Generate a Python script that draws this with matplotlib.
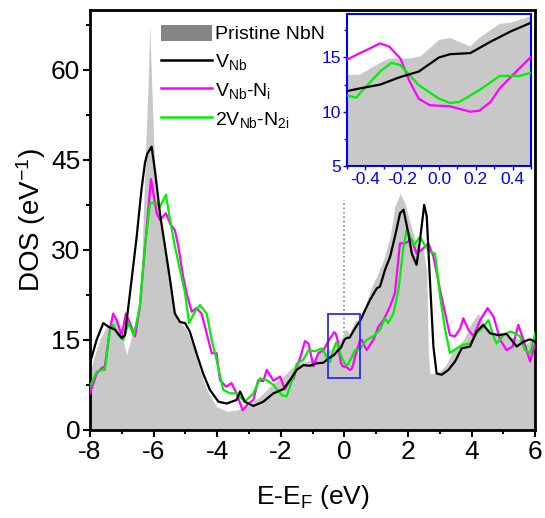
import matplotlib
matplotlib.use('Agg')
import matplotlib.pyplot as plt
from matplotlib.patches import Patch, Rectangle
from matplotlib.lines import Line2D
from matplotlib.ticker import MultipleLocator

plt.rcParams['font.family'] = ['Liberation Sans', 'DejaVu Sans']
plt.rcParams['mathtext.fontset'] = 'custom'
plt.rcParams['mathtext.rm'] = 'Liberation Sans'
plt.rcParams['mathtext.it'] = 'Liberation Sans:italic'
plt.rcParams['axes.unicode_minus'] = False

# total DOS, energies relative to E_F (eV), DOS in states/eV
e_pristine = [-8.0, -7.85, -7.69, -7.5, -7.37, -7.21, -7.0, -6.85, -6.69, -6.48, -6.38,
              -6.32, -6.24, -6.17, -6.12, -6.06, -6.0, -5.93, -5.85, -5.75, -5.59, -5.43,
              -5.27, -5.12, -4.96, -4.75, -4.54, -4.33, -4.02, -3.7, -3.39, -3.07, -2.65,
              -2.23, -1.92, -1.6, -1.39, -1.08, -0.87, -0.66, -0.5, -0.43, -0.32, -0.27,
              -0.16, -0.1, 0.0, 0.06, 0.17, 0.22, 0.33, 0.39, 0.5, 0.65, 0.86, 1.02, 1.23,
              1.44, 1.59, 1.75, 1.91, 2.07, 2.27, 2.48, 2.59, 2.64, 2.69, 2.9, 3.17, 3.43,
              3.74, 4.0, 4.21, 4.37, 4.69, 5.0, 5.42, 5.73, 6.0]
dos_pristine = [9.5, 12.5, 15.0, 17.0, 17.8, 18.3, 16.1, 12.5, 15.6, 19.4, 27.0,
                36.0, 47.8, 58.0, 67.5, 58.0, 49.0, 40.0, 36.0, 33.3, 27.8, 21.7,
                18.3, 17.8, 16.7, 13.9, 10.0, 6.7, 3.9, 3.1, 3.3, 3.9, 5.6,
                7.8, 8.9, 10.6, 11.1, 11.6, 12.2, 13.6, 13.4, 13.4, 14.5, 14.9,
                14.9, 15.1, 16.6, 16.8, 16.0, 16.8, 18.1, 18.2, 18.8, 20.6, 23.9, 25.6, 28.3,
                32.2, 37.2, 39.4, 37.8, 34.4, 31.1, 30.0, 26.7, 12.8, 9.4, 9.4, 10.6, 13.3,
                15.0, 17.8, 19.4, 17.8, 16.1, 15.8, 15.3, 14.4, 15.6]

e_vnb = [-8.0, -7.79, -7.58, -7.42, -7.21, -7.0, -6.9, -6.79, -6.69, -6.53, -6.38, -6.27,
         -6.2, -6.06, -5.95, -5.85, -5.8, -5.64, -5.48, -5.33, -5.17, -5.01, -4.86, -4.65,
         -4.44, -4.23, -3.96, -3.7, -3.39, -3.28, -3.13, -2.86, -2.55, -2.23, -1.92, -1.71,
         -1.5, -1.29, -1.08, -0.87, -0.66, -0.5, -0.43, -0.32, -0.21, -0.11, 0.0, 0.06,
         0.17, 0.28, 0.39, 0.5, 0.6, 0.81, 1.02, 1.12, 1.28, 1.44, 1.59, 1.75, 1.86, 2.01,
         2.12, 2.27, 2.38, 2.51, 2.59, 2.69, 2.8, 2.9, 3.06, 3.27, 3.48, 3.69, 3.95, 4.16,
         4.37, 4.58, 4.84, 5.1, 5.42, 5.63, 5.84, 6.0]
dos_vnb = [11.1, 15.0, 17.8, 17.2, 16.7, 15.3, 15.8, 20.6, 25.0, 32.2, 40.0, 44.5,
           46.0, 47.2, 43.0, 38.5, 36.1, 30.6, 25.0, 19.4, 18.0, 17.8, 16.4, 12.8,
           9.4, 6.7, 4.7, 4.4, 5.0, 6.4, 4.7, 4.0, 4.7, 6.1, 6.8, 8.3,
           10.0, 10.8, 10.7, 11.1, 11.2, 11.9, 12.15, 12.5, 13.2, 13.7, 15.0, 15.3,
           15.4, 16.45, 17.4, 18.2, 19.4, 21.7, 23.6, 23.9, 26.7, 28.9, 32.2, 36.1, 36.7, 32.8,
           29.4, 27.5, 31.7, 37.5, 35.6, 25.0, 13.9, 9.4, 9.2, 10.0, 11.4, 13.6, 13.9, 16.4,
           17.5, 16.1, 15.8, 16.0, 13.9, 14.7, 15.1, 14.7]

e_vnb_ni = [-8.0, -7.79, -7.63, -7.53, -7.37, -7.27, -7.16, -7.0, -6.87, -6.74, -6.58, -6.43,
            -6.22, -6.08, -5.9, -5.8, -5.61, -5.48, -5.33, -5.22, -5.07, -4.96, -4.8, -4.65,
            -4.49, -4.33, -4.17, -4.02, -3.91, -3.72, -3.55, -3.39, -3.2, -3.02, -2.86, -2.71,
            -2.55, -2.44, -2.23, -2.02, -1.87, -1.71, -1.6, -1.5, -1.39, -1.24, -1.13, -0.97,
            -0.82, -0.66, -0.5, -0.43, -0.38, -0.32, -0.27, -0.21, -0.16, -0.11, -0.05, 0.06,
            0.17, 0.22, 0.28, 0.33, 0.39, 0.5, 0.55, 0.7, 0.91, 1.07, 1.23, 1.44, 1.59, 1.75,
            1.91, 2.12, 2.27, 2.43, 2.64, 2.8, 3.01, 3.17, 3.32, 3.48, 3.64, 3.74, 3.9, 4.06,
            4.27, 4.5, 4.69, 4.9, 5.1, 5.29, 5.47, 5.63, 5.84, 6.0]
dos_vnb_ni = [6.1, 9.4, 10.3, 10.6, 16.7, 19.4, 18.3, 15.8, 19.4, 17.8, 15.6, 20.6,
              33.3, 41.8, 36.1, 35.0, 36.1, 34.4, 33.3, 30.6, 25.6, 22.8, 19.7, 20.3,
              19.4, 16.1, 12.8, 12.8, 8.3, 7.2, 7.8, 6.1, 3.3, 4.4, 5.0, 8.3,
              8.1, 10.0, 8.2, 8.9, 6.8, 8.3, 8.5, 10.5, 12.0, 14.8, 14.4, 10.6,
              12.8, 13.3, 14.8, 15.4, 15.8, 16.3, 16.0, 14.9, 12.8, 11.2, 10.6, 10.5,
              10.0, 10.1, 10.9, 12.15, 13.2, 15.06, 15.0, 13.3, 15.0, 17.2, 18.3, 20.6, 22.8, 31.1,
              31.1, 31.7, 29.4, 30.0, 31.1, 28.9, 23.3, 19.4, 15.8, 15.6, 16.9, 18.6, 16.7, 15.6,
              18.3, 20.3, 18.9, 15.0, 13.3, 13.9, 17.5, 15.0, 11.4, 14.4]

e_2vnb_n2i = [-8.0, -7.79, -7.63, -7.53, -7.37, -7.27, -7.11, -6.95, -6.79, -6.62, -6.43, -6.27,
              -6.11, -5.9, -5.8, -5.61, -5.48, -5.33, -5.17, -5.01, -4.88, -4.7, -4.54, -4.33,
              -4.17, -4.02, -3.81, -3.6, -3.39, -3.13, -2.86, -2.65, -2.44, -2.23, -1.97, -1.82,
              -1.6, -1.5, -1.29, -1.13, -0.92, -0.71, -0.56, -0.5, -0.45, -0.43, -0.32, -0.26,
              -0.21, -0.11, 0.0, 0.06, 0.11, 0.22, 0.33, 0.44, 0.5, 0.7, 0.91, 1.12, 1.28, 1.38,
              1.54, 1.7, 1.86, 1.96, 2.07, 2.19, 2.38, 2.54, 2.69, 2.85, 3.01, 3.17, 3.32, 3.53,
              3.74, 3.95, 4.16, 4.37, 4.53, 4.69, 4.79, 5.0, 5.21, 5.37, 5.52, 5.68, 5.84, 6.0]
dos_2vnb_n2i = [7.2, 9.7, 10.0, 10.0, 16.7, 17.5, 15.8, 15.0, 17.8, 15.8, 20.6, 30.6,
                37.8, 37.8, 37.2, 39.2, 35.0, 30.6, 26.7, 22.8, 17.8, 19.7, 20.8, 19.4,
                15.0, 11.7, 6.7, 6.1, 6.1, 4.7, 6.1, 8.6, 8.3, 7.5, 5.8, 5.6,
                8.9, 11.0, 11.7, 13.3, 13.1, 13.6, 12.2, 11.5, 11.3, 11.7, 13.7, 14.5,
                14.3, 12.45, 11.2, 10.8, 10.9, 12.0, 13.3, 13.3, 13.6, 15.0, 15.6, 16.7, 18.6, 17.8,
                19.4, 23.3, 30.6, 33.3, 32.2, 30.8, 32.2, 30.6, 29.7, 29.4, 22.2, 16.7, 12.8, 13.6,
                14.2, 14.4, 16.1, 17.2, 18.3, 15.6, 14.4, 15.8, 16.4, 16.1, 15.6, 13.3, 12.8, 16.1]

labels = ['Pristine NbN',
          r'V$_\mathregular{Nb}$',
          r'V$_\mathregular{Nb}$-N$_\mathregular{i}$',
          r'2V$_\mathregular{Nb}$-N$_\mathregular{2i}$']
gray_fill = '#c8c8c8'
colors = ['k', '#ff00ff', '#00f000']
blue = '#0000ff'


def draw_dos(ax, lw):
    ax.fill_between(e_pristine, dos_pristine, color=gray_fill, lw=0, zorder=1)
    ax.plot(e_vnb_ni, dos_vnb_ni, color=colors[1], lw=lw, zorder=3)
    ax.plot(e_2vnb_n2i, dos_2vnb_n2i, color=colors[2], lw=lw, zorder=3)
    ax.plot(e_vnb, dos_vnb, color=colors[0], lw=lw, zorder=3)


fig = plt.figure(figsize=(5.45, 5.18), dpi=100)
ax = fig.add_axes([0.165, 0.170, 0.817, 0.811])
draw_dos(ax, 1.6)

# Fermi level and zoom window
ax.vlines(0, 0, 38.3, colors='#888888', linestyles=':', lw=1.2, zorder=0.5)
ax.add_patch(Rectangle((-0.5, 8.7), 1.0, 10.6, fill=False, ec='#2a2aff', lw=1.3, zorder=4))

ax.set_xlim(-8, 6)
ax.set_ylim(0, 70)
ax.xaxis.set_major_locator(MultipleLocator(2))
ax.xaxis.set_minor_locator(MultipleLocator(1))
ax.yaxis.set_major_locator(MultipleLocator(15))
ax.yaxis.set_minor_locator(MultipleLocator(7.5))
ax.tick_params(which='both', direction='out', top=False, right=False, width=1.5, labelsize=19)
ax.tick_params(which='major', length=5, pad=2)
ax.tick_params(which='minor', length=3)
for s in ax.spines.values():
    s.set_linewidth(2)
ax.set_xlabel(r'E-E$_\mathregular{F}$ (eV)', fontsize=19, labelpad=14)
ax.set_ylabel(r'DOS (eV$^\mathregular{-1}$)', fontsize=20, labelpad=2)

handles = [Patch(fc='#858585', ec='none')] + [Line2D([], [], color=c, lw=1.8) for c in colors]
ax.legend(handles, labels, loc='upper left', bbox_to_anchor=(0.16, 0.965), frameon=False,
          fontsize=14, handlelength=2.6, handleheight=0.9, handletextpad=0.15,
          labelspacing=0.45, borderpad=0, borderaxespad=0)

# inset around the Fermi level
axin = fig.add_axes([0.6367, 0.6795, 0.3376, 0.2934])
draw_dos(axin, 1.6)
axin.set_xlim(-0.5, 0.5)
axin.set_ylim(5, 19)
axin.xaxis.set_major_locator(MultipleLocator(0.2))
axin.xaxis.set_minor_locator(MultipleLocator(0.1))
axin.yaxis.set_major_locator(MultipleLocator(5))
axin.yaxis.set_minor_locator(MultipleLocator(2.5))
axin.set_xticks([-0.4, -0.2, 0.0, 0.2, 0.4])
axin.set_xticklabels(['-0.4', '-0.2', '0.0', '0.2', '0.4'])
axin.tick_params(which='both', direction='out', colors=blue, labelcolor=blue,
                 labelsize=12.5, width=1, top=False, right=False, pad=1.5)
axin.tick_params(which='major', length=3)
axin.tick_params(which='minor', length=2)
for s in axin.spines.values():
    s.set_color(blue)
    s.set_linewidth(1.5)

fig.savefig('out.png', dpi=100)
